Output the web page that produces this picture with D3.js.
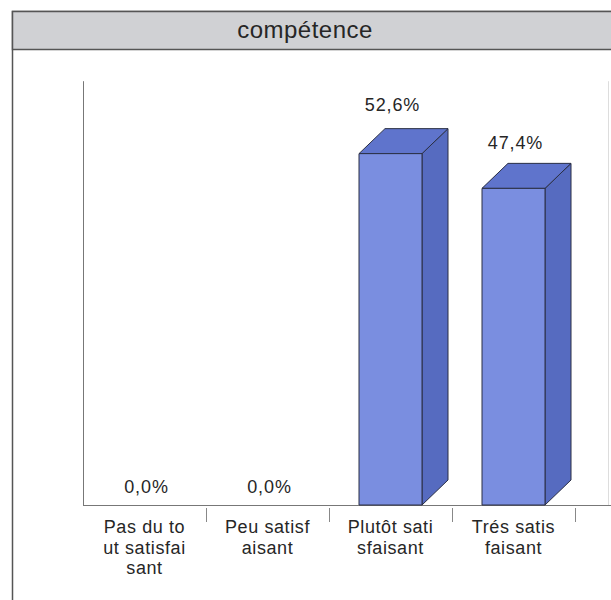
<!DOCTYPE html>
<html>
<head>
<meta charset="utf-8">
<script src="https://cdn.jsdelivr.net/npm/d3@7"></script>
<style>
  html, body { margin: 0; padding: 0; background: #fff; }
  svg { display: block; }
  text { font-family: Arial, "Liberation Sans", sans-serif; fill: #262626; }
</style>
</head>
<body>
<div id="chart"></div>
<script>
const title = "compétence";
const categories = ["Pas du to\nut satisfai\nsant", "Peu satisf\naisant", "Plutôt sati\nsfaisant", "Trés satis\nfaisant"];
const values = [0.0, 0.0, 52.6, 47.4];
const valueLabels = ["0,0%", "0,0%", "52,6%", "47,4%"];

const W = 611, H = 600;
const svg = d3.select("#chart").append("svg").attr("width", W).attr("height", H);

// outer frame + title band
svg.append("rect").attr("x", 12.5).attr("y", 11.5).attr("width", 640).attr("height", 640)
  .attr("fill", "#fff").attr("stroke", "#555").attr("stroke-width", 1.5);
svg.append("rect").attr("x", 12.5).attr("y", 11.5).attr("width", 640).attr("height", 38)
  .attr("fill", "#d0d1d4").attr("stroke", "#555").attr("stroke-width", 1.5);
svg.append("text").attr("x", 305).attr("y", 38).attr("text-anchor", "middle")
  .style("font-size", "24px").style("letter-spacing", "0.5px").text(title);

const baseY = 505, left = 83, right = 575;
const depthX = 26, depthY = -25;
const x = d3.scaleBand().domain(categories).range([left, right]).paddingInner(0).paddingOuter(0);
const y = d3.scaleLinear().domain([0, 60]).range([baseY, baseY - 400.8]);
const yLabel = d3.scaleLinear().domain([0, 60]).range([493, 493 - 7.26 * 60]);
const frontW = 63;

// back wall left edge (value axis line) and faint right edge
svg.append("line").attr("x1", left + 0.5).attr("x2", left + 0.5)
  .attr("y1", y(60) + depthY + 2).attr("y2", baseY).attr("stroke", "#777").attr("stroke-width", 1);
svg.append("line").attr("x1", 608.5).attr("x2", 608.5)
  .attr("y1", y(60) + depthY + 2).attr("y2", baseY).attr("stroke", "#ddd").attr("stroke-width", 1);

// category axis
const xAxis = d3.axisBottom(x).tickSize(0).tickFormat("");
const gAx = svg.append("g").attr("transform", `translate(0,${baseY})`).call(xAxis);
gAx.select(".domain").remove();
svg.append("line").attr("x1", left).attr("x2", W).attr("y1", baseY + 0.5).attr("y2", baseY + 0.5)
  .attr("stroke", "#777").attr("stroke-width", 1.2);
categories.forEach((c, i) => {
  const tx = Math.round(x(c) + x.bandwidth()) + 0.5;
  svg.append("line").attr("x1", tx).attr("x2", tx).attr("y1", baseY + 3).attr("y2", baseY + 17)
    .attr("stroke", "#888").attr("stroke-width", 1);
});

// bars (3D)
const cFront = "#7a8ee0", cTop = "#5f74cc", cSide = "#566bc0";
categories.forEach((c, i) => {
  const v = values[i];
  const cx = x(c) + x.bandwidth() / 2;
  const x0 = cx - frontW / 2, x1 = cx + frontW / 2;
  const yt = y(v);
  if (v > 0) {
    const g = svg.append("g").attr("stroke", "#2a2f45").attr("stroke-width", 1).attr("stroke-linejoin", "round");
    g.append("path").attr("fill", cSide)
      .attr("d", `M${x1},${yt} L${x1 + depthX},${yt + depthY} L${x1 + depthX},${baseY + depthY} L${x1},${baseY} Z`);
    g.append("path").attr("fill", cTop)
      .attr("d", `M${x0},${yt} L${x0 + depthX},${yt + depthY} L${x1 + depthX},${yt + depthY} L${x1},${yt} Z`);
    g.append("rect").attr("fill", cFront).attr("x", x0).attr("y", yt).attr("width", frontW).attr("height", baseY - yt);
  }
  svg.append("text").attr("x", cx + 2).attr("y", yLabel(v)).attr("text-anchor", "middle")
    .style("font-size", "18px").style("letter-spacing", "0.9px").text(valueLabels[i]);
  const lines = c.split("\n");
  const t = svg.append("text").attr("text-anchor", "middle").style("font-size", "18px").style("letter-spacing", "0.6px");
  lines.forEach((ln, k) => {
    t.append("tspan").attr("x", cx).attr("y", 533 + k * 20.5).text(ln);
  });
});
</script>
</body>
</html>
